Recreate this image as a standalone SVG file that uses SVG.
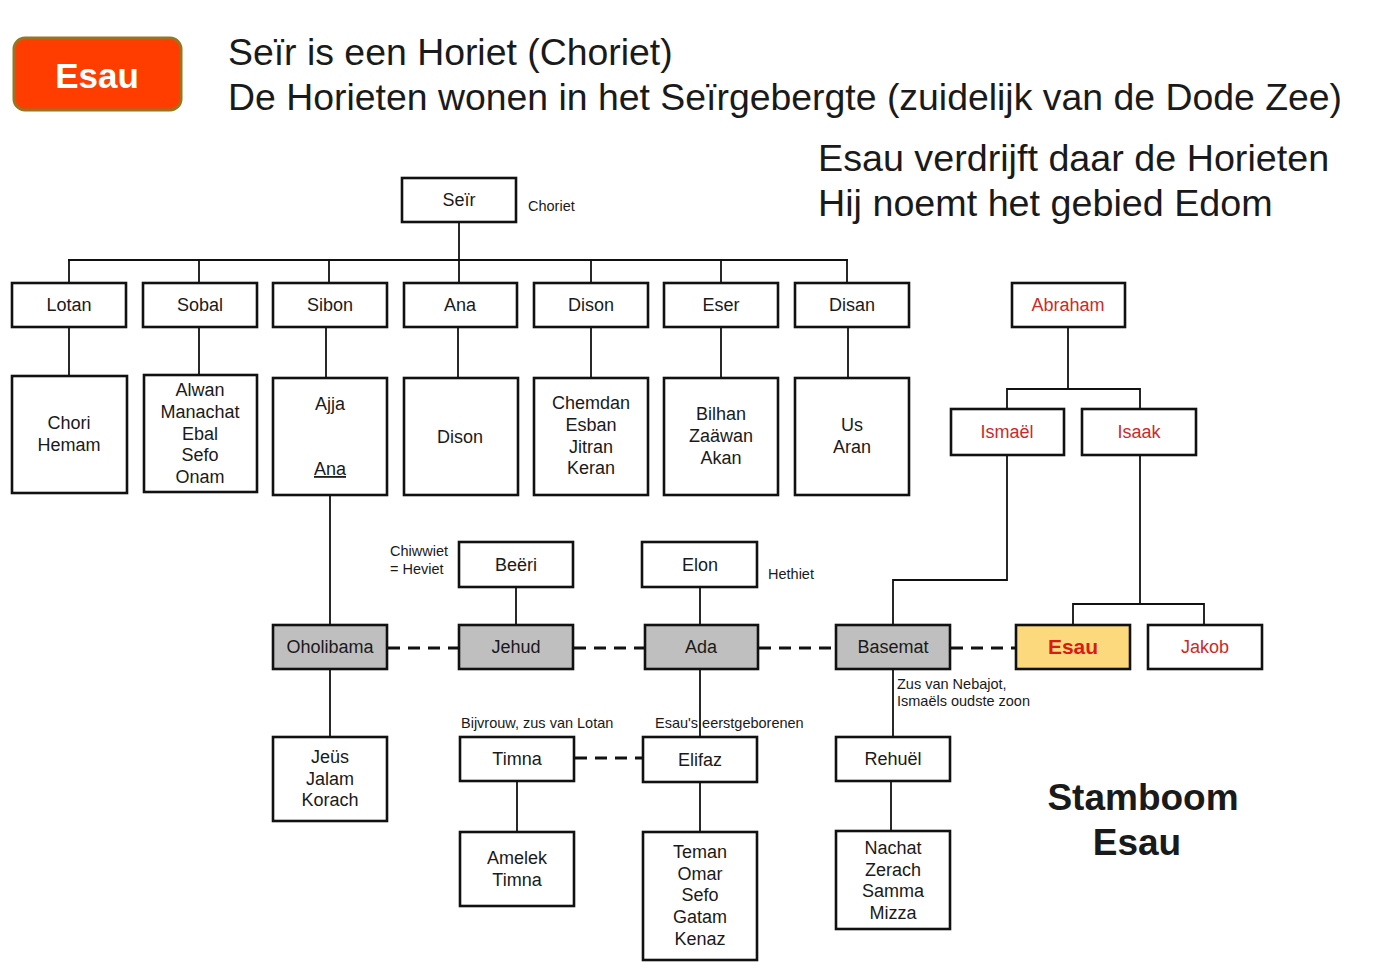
<svg xmlns="http://www.w3.org/2000/svg" width="1382" height="977" viewBox="0 0 1382 977">
<style>
text{font-family:"Liberation Sans",Arial,sans-serif;fill:#1a1a1a}
.t{font-size:37.4px}
.n{font-size:18px;text-anchor:middle}
.s{font-size:14.5px}
.red{fill:#cc2a2a}
.box rect{fill:#fff;stroke:#111;stroke-width:2.6}
.box.g rect{fill:#bfbfbf}
.box.y rect{fill:#fcd97c}
.c line,.c polyline{stroke:#111;stroke-width:1.8;fill:none}
.c .d{stroke-width:3;stroke-dasharray:12 8}
</style>
<rect width="1382" height="977" fill="#fff"/>
<g id="badge">
<rect x="14" y="38" width="167" height="72" rx="11" fill="#ff3d00" stroke="#9a7420" stroke-width="3"/>
<text x="97" y="88" style="font-size:35px;font-weight:bold;fill:#fff;text-anchor:middle">Esau</text>
</g>
<g id="titles">
<text class="t" x="228" y="65">Seïr is een Horiet (Choriet)</text>
<text class="t" x="228" y="110">De Horieten wonen in het Seïrgebergte (zuidelijk van de Dode Zee)</text>
<text class="t" x="818" y="171" style="font-size:37.7px">Esau verdrijft daar de Horieten</text>
<text class="t" x="818" y="216" style="font-size:37.7px">Hij noemt het gebied Edom</text>
<text x="1143" y="810" style="font-size:37px;font-weight:bold;text-anchor:middle">Stamboom</text>
<text x="1137" y="855" style="font-size:37px;font-weight:bold;text-anchor:middle">Esau</text>
</g>
<g id="connectors" class="c">
<line x1="459" y1="222" x2="459" y2="260"/>
<line x1="68" y1="260" x2="848" y2="260"/>
<line x1="69" y1="260" x2="69" y2="283"/>
<line x1="199" y1="260" x2="199" y2="283"/>
<line x1="329" y1="260" x2="329" y2="283"/>
<line x1="459" y1="260" x2="459" y2="283"/>
<line x1="591" y1="260" x2="591" y2="283"/>
<line x1="721" y1="260" x2="721" y2="283"/>
<line x1="847" y1="260" x2="847" y2="283"/>
<line x1="69" y1="327" x2="69" y2="376"/>
<line x1="199" y1="327" x2="199" y2="376"/>
<line x1="326" y1="327" x2="326" y2="378"/>
<line x1="458" y1="327" x2="458" y2="378"/>
<line x1="591" y1="327" x2="591" y2="378"/>
<line x1="721" y1="327" x2="721" y2="378"/>
<line x1="848" y1="327" x2="848" y2="378"/>
<line x1="330" y1="495" x2="330" y2="625"/>
<line x1="1068" y1="327" x2="1068" y2="389"/>
<polyline points="1007,409 1007,389 1140,389 1140,409"/>
<polyline points="1007,455 1007,580 893,580 893,625"/>
<line x1="1140" y1="455" x2="1140" y2="604"/>
<polyline points="1073,625 1073,604 1204,604 1204,625"/>
<line x1="516" y1="587" x2="516" y2="625"/>
<line x1="700" y1="587" x2="700" y2="625"/>
<line class="d" x1="388" y1="648" x2="459" y2="648"/>
<line class="d" x1="574" y1="648" x2="645" y2="648"/>
<line class="d" x1="759" y1="648" x2="836" y2="648"/>
<line class="d" x1="951" y1="648" x2="1016" y2="648"/>
<line x1="330" y1="669" x2="330" y2="737"/>
<line x1="700" y1="669" x2="700" y2="737"/>
<line x1="893" y1="669" x2="893" y2="737"/>
<line class="d" x1="575" y1="758" x2="643" y2="758"/>
<line x1="517" y1="781" x2="517" y2="832"/>
<line x1="700" y1="782" x2="700" y2="832"/>
<line x1="891" y1="781" x2="891" y2="831"/>
</g>
<g id="seir" class="box"><rect x="402" y="178" width="114" height="44"/><text class="n" x="459" y="206">Seïr</text></g>
<text class="s" x="528" y="211">Choriet</text>
<g id="lotan" class="box"><rect x="12" y="283" width="114" height="44"/><text class="n" x="69" y="311">Lotan</text></g>
<g id="sobal" class="box"><rect x="143" y="283" width="114" height="44"/><text class="n" x="200" y="311">Sobal</text></g>
<g id="sibon" class="box"><rect x="273" y="283" width="114" height="44"/><text class="n" x="330" y="311">Sibon</text></g>
<g id="ana" class="box"><rect x="404" y="283" width="113" height="44"/><text class="n" x="460" y="311">Ana</text></g>
<g id="dison" class="box"><rect x="534" y="283" width="114" height="44"/><text class="n" x="591" y="311">Dison</text></g>
<g id="eser" class="box"><rect x="664" y="283" width="114" height="44"/><text class="n" x="721" y="311">Eser</text></g>
<g id="disan" class="box"><rect x="795" y="283" width="114" height="44"/><text class="n" x="852" y="311">Disan</text></g>
<g id="lotan-kids" class="box"><rect x="12" y="376" width="115" height="117"/><text class="n" x="69" y="429">Chori</text><text class="n" x="69" y="451">Hemam</text></g>
<g id="sobal-kids" class="box"><rect x="144" y="375" width="113" height="117"/><text class="n" x="200" y="396">Alwan</text><text class="n" x="200" y="418">Manachat</text><text class="n" x="200" y="440">Ebal</text><text class="n" x="200" y="461">Sefo</text><text class="n" x="200" y="483">Onam</text></g>
<g id="sibon-kids" class="box"><rect x="273" y="378" width="114" height="117"/><text class="n" x="330" y="410">Ajja</text><text class="n" x="330" y="475" style="text-decoration:underline">Ana</text></g>
<g id="ana-kids" class="box"><rect x="404" y="378" width="114" height="117"/><text class="n" x="460" y="443">Dison</text></g>
<g id="dison-kids" class="box"><rect x="534" y="378" width="114" height="117"/><text class="n" x="591" y="409">Chemdan</text><text class="n" x="591" y="431">Esban</text><text class="n" x="591" y="453">Jitran</text><text class="n" x="591" y="474">Keran</text></g>
<g id="eser-kids" class="box"><rect x="664" y="378" width="114" height="117"/><text class="n" x="721" y="420">Bilhan</text><text class="n" x="721" y="442">Zaäwan</text><text class="n" x="721" y="464">Akan</text></g>
<g id="disan-kids" class="box"><rect x="795" y="378" width="114" height="117"/><text class="n" x="852" y="431">Us</text><text class="n" x="852" y="453">Aran</text></g>
<g id="abraham" class="box"><rect x="1012" y="283" width="113" height="44"/><text class="n red" x="1068" y="311">Abraham</text></g>
<g id="ismael" class="box"><rect x="951" y="409" width="113" height="46"/><text class="n red" x="1007" y="438">Ismaël</text></g>
<g id="isaak" class="box"><rect x="1082" y="409" width="114" height="46"/><text class="n red" x="1139" y="438">Isaak</text></g>
<g id="beeri" class="box"><rect x="459" y="542" width="114" height="45"/><text class="n" x="516" y="571">Beëri</text></g>
<text class="s" x="390" y="556">Chiwwiet</text>
<text class="s" x="390" y="574">= Heviet</text>
<g id="elon" class="box"><rect x="642" y="542" width="115" height="45"/><text class="n" x="700" y="571">Elon</text></g>
<text class="s" x="768" y="579">Hethiet</text>
<g id="oholibama" class="box g"><rect x="273" y="625" width="114" height="44"/><text class="n" x="330" y="653">Oholibama</text></g>
<g id="jehud" class="box g"><rect x="459" y="625" width="114" height="44"/><text class="n" x="516" y="653">Jehud</text></g>
<g id="ada" class="box g"><rect x="645" y="625" width="113" height="44"/><text class="n" x="701" y="653">Ada</text></g>
<g id="basemat" class="box g"><rect x="836" y="625" width="114" height="44"/><text class="n" x="893" y="653">Basemat</text></g>
<g id="esau" class="box y"><rect x="1016" y="625" width="114" height="44"/><text class="n" x="1073" y="654" style="font-size:21px;font-weight:bold;fill:#d81c14">Esau</text></g>
<g id="jakob" class="box"><rect x="1148" y="625" width="114" height="44"/><text class="n red" x="1205" y="653">Jakob</text></g>
<text class="s" x="897" y="689">Zus van Nebajot,</text>
<text class="s" x="897" y="706">Ismaëls oudste zoon</text>
<text class="s" x="461" y="728">Bijvrouw, zus van Lotan</text>
<text class="s" x="655" y="728">Esau's eerstgeborenen</text>
<g id="oholibama-kids" class="box"><rect x="273" y="737" width="114" height="84"/><text class="n" x="330" y="763">Jeüs</text><text class="n" x="330" y="785">Jalam</text><text class="n" x="330" y="806">Korach</text></g>
<g id="timna" class="box"><rect x="460" y="737" width="114" height="44"/><text class="n" x="517" y="765">Timna</text></g>
<g id="elifaz" class="box"><rect x="643" y="737" width="114" height="45"/><text class="n" x="700" y="766">Elifaz</text></g>
<g id="rehuel" class="box"><rect x="836" y="737" width="114" height="44"/><text class="n" x="893" y="765">Rehuël</text></g>
<g id="timna-kids" class="box"><rect x="460" y="832" width="114" height="74"/><text class="n" x="517" y="864">Amelek</text><text class="n" x="517" y="886">Timna</text></g>
<g id="elifaz-kids" class="box"><rect x="643" y="832" width="114" height="128"/><text class="n" x="700" y="858">Teman</text><text class="n" x="700" y="880">Omar</text><text class="n" x="700" y="901">Sefo</text><text class="n" x="700" y="923">Gatam</text><text class="n" x="700" y="945">Kenaz</text></g>
<g id="rehuel-kids" class="box"><rect x="836" y="831" width="114" height="98"/><text class="n" x="893" y="854">Nachat</text><text class="n" x="893" y="876">Zerach</text><text class="n" x="893" y="897">Samma</text><text class="n" x="893" y="919">Mizza</text></g>
</svg>
